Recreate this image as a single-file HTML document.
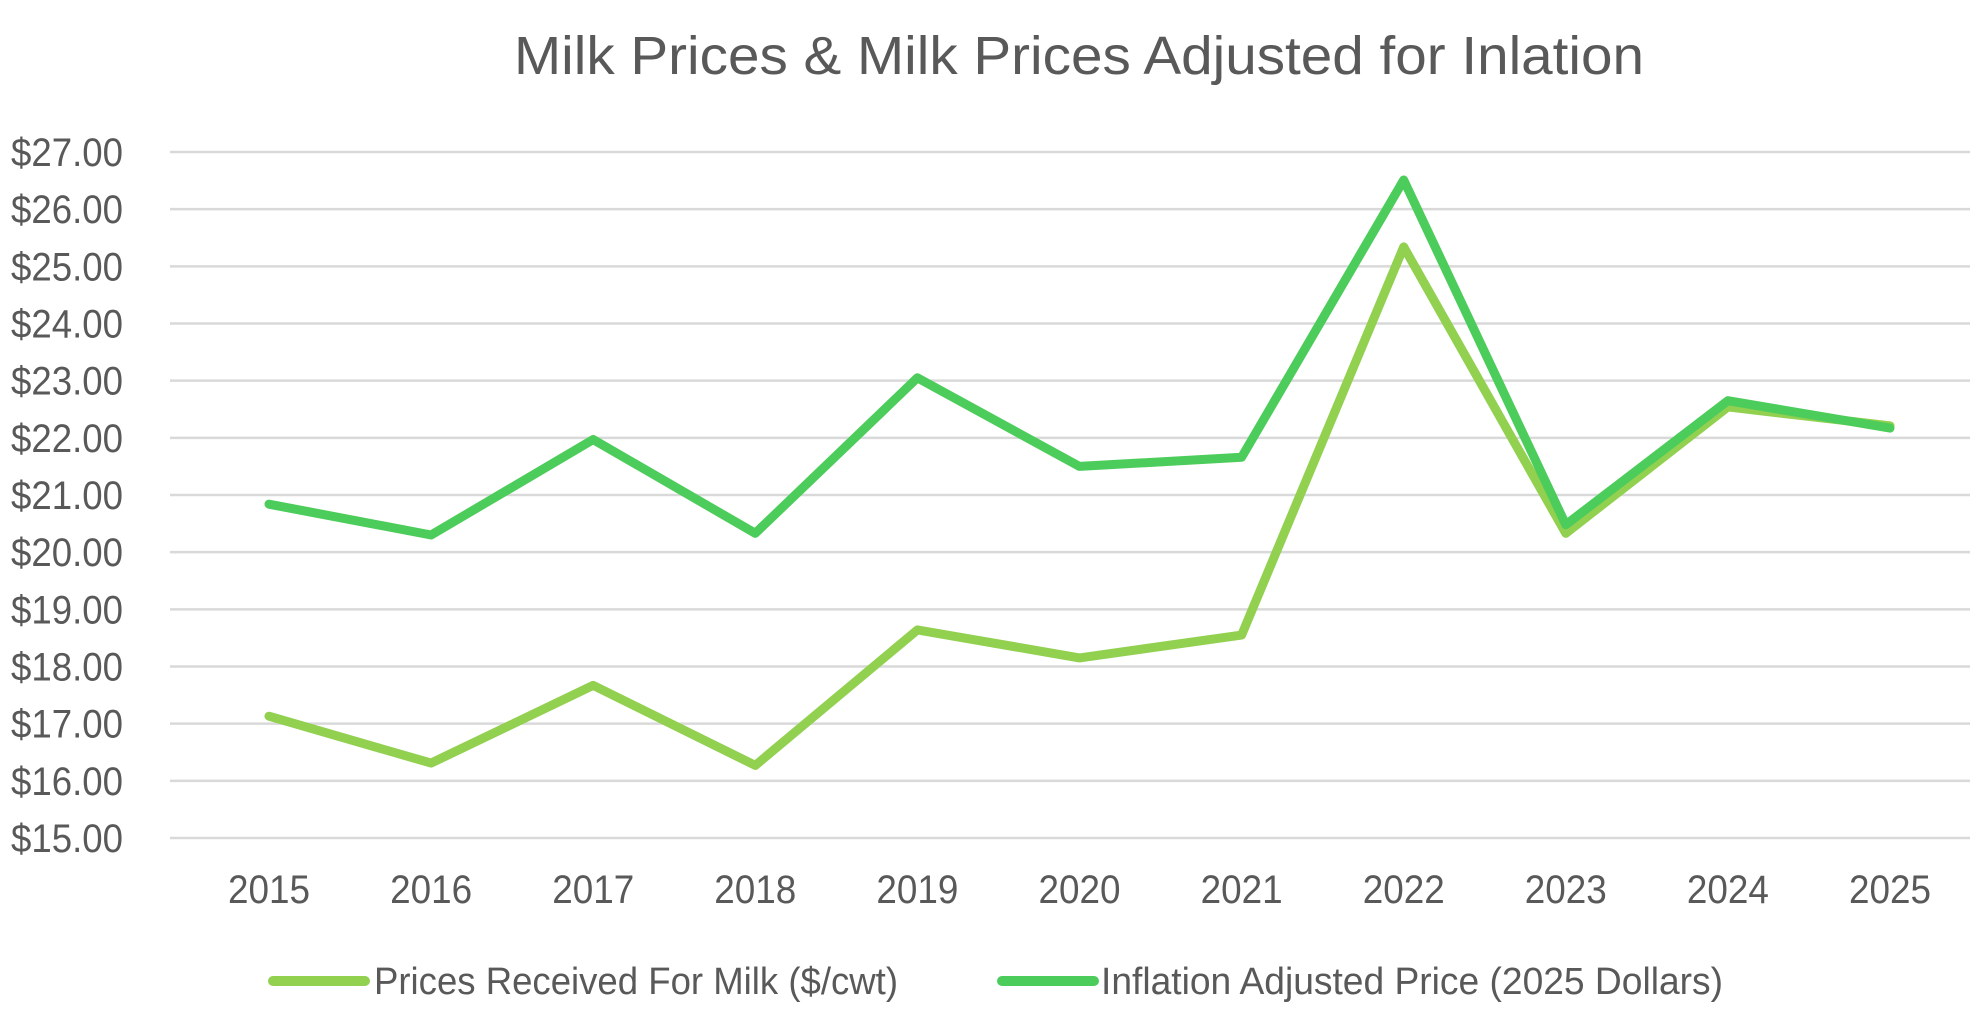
<!DOCTYPE html>
<html><head><meta charset="utf-8"><style>
html,body{margin:0;padding:0;background:#fff;}
svg{display:block;font-family:"Liberation Sans",sans-serif;}
</style></head><body>
<svg id="chart" width="1980" height="1020" viewBox="0 0 1980 1020">
<text x="1079" y="74" text-anchor="middle" font-size="54" fill="#595959" textLength="1130" lengthAdjust="spacingAndGlyphs">Milk Prices &amp; Milk Prices Adjusted for Inlation</text>
<g id="grid"></g><g id="yticks"></g><g id="xticks"></g><g id="series"></g>
<g>
<line x1="273" y1="981" x2="365" y2="981" stroke="#92d050" stroke-width="10" stroke-linecap="round"/>
<text x="374" y="994" font-size="38" fill="#595959" textLength="524" lengthAdjust="spacingAndGlyphs">Prices Received For Milk ($/cwt)</text>
<line x1="1002" y1="981" x2="1094" y2="981" stroke="#4ccc5a" stroke-width="10" stroke-linecap="round"/>
<text x="1101" y="994" font-size="38" fill="#595959" textLength="622" lengthAdjust="spacingAndGlyphs">Inflation Adjusted Price (2025 Dollars)</text>
</g>
</svg>
<script>
const years = ["2015","2016","2017","2018","2019","2020","2021","2022","2023","2024","2025"];
const received = [17.13,16.31,17.67,16.27,18.64,18.15,18.55,25.34,20.33,22.54,22.21];
const adjusted = [20.84,20.30,21.97,20.33,23.05,21.50,21.66,26.51,20.48,22.65,22.17];
const yTicks = [15,16,17,18,19,20,21,22,23,24,25,26,27];

const NS="http://www.w3.org/2000/svg";
const x0=269, xStep=162.1, yTop=152, yBot=838, vMin=15, vMax=27;
const xs=i=>x0+i*xStep;
const ys=v=>yBot-(v-vMin)/(vMax-vMin)*(yBot-yTop);
function mk(tag,attrs,parent){const e=document.createElementNS(NS,tag);for(const k in attrs)e.setAttribute(k,attrs[k]);parent.appendChild(e);return e;}
const grid=document.getElementById('grid'),yt=document.getElementById('yticks'),xt=document.getElementById('xticks'),sg=document.getElementById('series');
yTicks.forEach(v=>{
  const l=mk('line',{x1:170,x2:1970,y1:ys(v),y2:ys(v),stroke:'#d9d9d9','stroke-width':2.5},grid);
  
  
  const t=mk('text',{x:11,y:ys(v)+14,'font-size':40,fill:'#595959',textLength:112,lengthAdjust:'spacingAndGlyphs'},yt);
  t.textContent='$'+v.toFixed(2);
  
  
});
years.forEach((y,i)=>{
  const t=mk('text',{x:xs(i),y:903,'font-size':40,fill:'#595959','text-anchor':'middle',textLength:82,lengthAdjust:'spacingAndGlyphs'},xt);
  t.textContent=y;
  
  
});
function line(vals,color,name){
  const p=mk('polyline',{points:vals.map((v,i)=>xs(i)+','+ys(v)).join(' '),fill:'none',stroke:color,'stroke-width':9,'stroke-linejoin':'round','stroke-linecap':'round'},sg);
  
  
}
line(received,'#92d050','series-received-line');
line(adjusted,'#4ccc5a','series-adjusted-line');
</script>
</body></html>
